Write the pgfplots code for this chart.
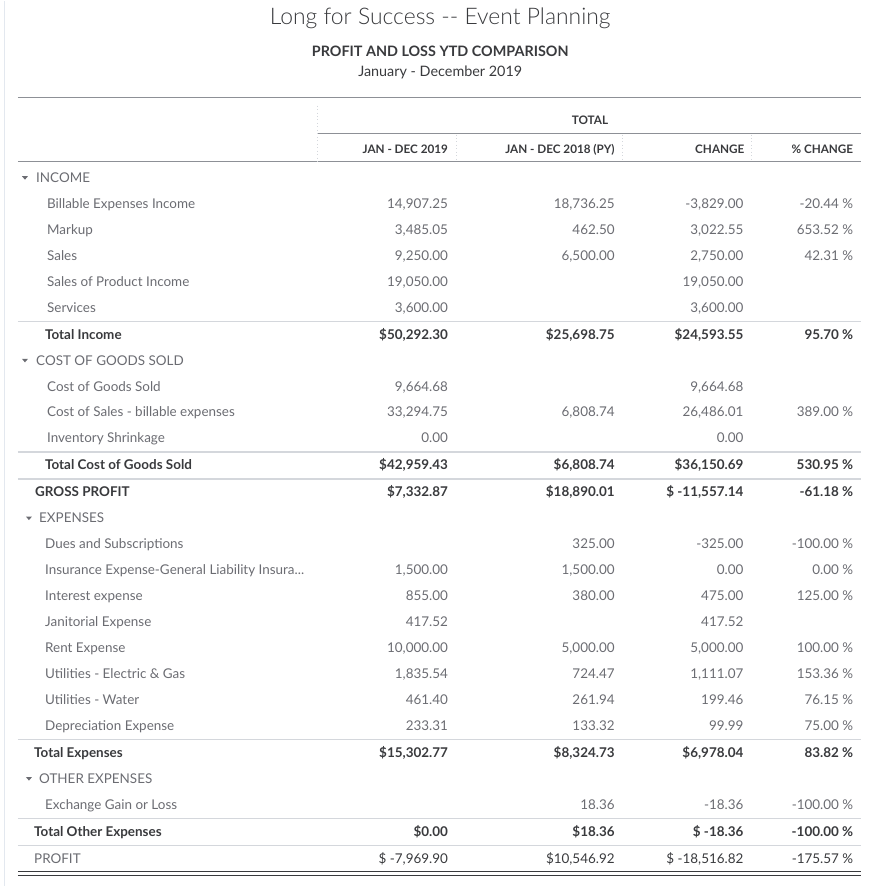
\documentclass[border=0pt]{standalone}
\usepackage{pgfplots}
\pgfplotsset{compat=1.18}
\usepackage{fontspec}
\setmainfont{Lato}
\IfFontExistsTF{Lato Light}{\newfontfamily\lightfont{Lato Light}}{\newfontfamily\lightfont{Lato}}
\definecolor{qbgray}{HTML}{6B6C72}
\definecolor{qbdark}{HTML}{393A3D}
\definecolor{rule}{HTML}{8D9096}
\definecolor{lightrule}{HTML}{D4D7DC}
\definecolor{border}{HTML}{E3E8EF}
\newcommand{\itemfont}{\fontsize{10.1}{12}\selectfont}
\pgfplotsset{
  tbl/.style={draw=none, mark=none, point meta=explicit symbolic,
    nodes near coords={\pgfplotspointmeta},
    every node near coord/.append style={inner sep=0pt, yshift=-3.7pt}},
  L/.style={tbl, every node near coord/.append style={anchor=base west}},
  R/.style={tbl, every node near coord/.append style={anchor=base east}},
  C/.style={tbl, every node near coord/.append style={anchor=base}},
  item/.style={every node near coord/.append style={font=\itemfont, text=qbgray}},
  dark/.style={every node near coord/.append style={font=\itemfont, text=qbdark}},
  bold/.style={every node near coord/.append style={font=\itemfont\bfseries, text=qbdark}},
  head/.style={every node near coord/.append style={font=\fontsize{8.8}{10}\selectfont\bfseries, text=qbdark}},
}
\begin{document}
\begin{tikzpicture}
\begin{axis}[scale only axis, width=659.25pt, height=665.25pt,
  xmin=0, xmax=879, ymin=0, ymax=887, y dir=reverse,
  axis lines=none, clip=false]
\path (axis cs:0,0) rectangle (axis cs:879,887);
% borders and rules
\draw[border, line width=1.2pt] (axis cs:4.5,0) -- (axis cs:4.5,887);
\draw[rule, line width=1.1pt] (axis cs:18,97) -- (axis cs:863,97);
\draw[rule, line width=1.1pt] (axis cs:318,133) -- (axis cs:863,133);
\draw[rule, line width=1.1pt] (axis cs:18,161) -- (axis cs:863,161);
\draw[lightrule, dotted, line width=0.6pt] (axis cs:318,105) -- (axis cs:318,161);
\draw[lightrule, dotted, line width=0.6pt] (axis cs:457,134) -- (axis cs:457,161);
\draw[lightrule, dotted, line width=0.6pt] (axis cs:624,134) -- (axis cs:624,161);
\draw[lightrule, dotted, line width=0.6pt] (axis cs:753,134) -- (axis cs:753,161);
\foreach \yy in {321,452,479,740,819,846}{
  \edef\tmp{\noexpand\draw[lightrule, line width=0.9pt] (axis cs:18,\yy) -- (axis cs:863,\yy);}\tmp
}
\draw[qbdark, line width=1.1pt] (axis cs:18,872) -- (axis cs:863,872);
\draw[qbdark, line width=1.1pt] (axis cs:18,876.5) -- (axis cs:863,876.5);
% triangles
\foreach \tx/\ty in {25/177, 25/360, 29/518, 29/779}{
  \edef\tmp{\noexpand\fill[qbgray] (axis cs:\tx-3,\ty-1.3) -- (axis cs:\tx+3,\ty-1.3) -- (axis cs:\tx,\ty+2.2) -- cycle;}\tmp
}
% titles
\addplot[C, every node near coord/.append style={font=\lightfont\fontsize{17.2}{20}\selectfont, text=qbdark, yshift=-2.2pt}] coordinates {(441,16) [Long for Success -- Event Planning]};
\addplot[C, every node near coord/.append style={font=\fontsize{10.8}{12}\selectfont\bfseries, text=qbdark}] coordinates {(441,51) [PROFIT AND LOSS YTD COMPARISON]};
\addplot[C, every node near coord/.append style={font=\fontsize{10.8}{12}\selectfont, text=qbdark}] coordinates {(441,71) [January - December 2019]};
% headers
\addplot[C, head] coordinates {(591,119) [TOTAL]};
\addplot[R, head] coordinates {(449,148) [JAN - DEC 2019] (616,148) [JAN - DEC 2018 (PY)] (746,148) [CHANGE] (855,148) [\% CHANGE]};
% section labels
\addplot[L, item] coordinates {(36,177) [INCOME] (36,360) [COST OF GOODS SOLD] (39,518) [EXPENSES] (39,779) [OTHER EXPENSES]};
% item labels
\addplot[L, item] coordinates {
 (47,203) [Billable Expenses Income] (47,229) [Markup] (47,255) [Sales]
 (47,281) [Sales of Product Income] (47,307) [Services]
 (47,386) [Cost of Goods Sold] (47,412) [Cost of Sales - billable expenses] (47,438) [Inventory Shrinkage]
 (45,544) [Dues and Subscriptions] (45,570) [Insurance Expense-General Liability Insura...]
 (45,596) [Interest expense] (45,622) [Janitorial Expense] (45,648) [Rent Expense]
 (45,674) [Utilities - Electric \& Gas] (45,700) [Utilities - Water] (45,726) [Depreciation Expense]
 (45,805) [Exchange Gain or Loss]};
% total labels
\addplot[L, bold] coordinates {(45,334) [Total Income] (45,465) [Total Cost of Goods Sold] (35,492) [GROSS PROFIT]
 (34,753) [Total Expenses] (34,832) [Total Other Expenses]};
\addplot[L, item] coordinates {(34,859) [PROFIT]};
% column JAN - DEC 2019
\addplot[R, item] coordinates {
 (449,203) [14,907.25] (449,229) [3,485.05] (449,255) [9,250.00] (449,281) [19,050.00] (449,307) [3,600.00]
 (449,386) [9,664.68] (449,412) [33,294.75] (449,438) [0.00]
 (449,570) [1,500.00] (449,596) [855.00] (449,622) [417.52] (449,648) [10,000.00]
 (449,674) [1,835.54] (449,700) [461.40] (449,726) [233.31]};
\addplot[R, bold] coordinates {(449,334) [\$50,292.30] (449,465) [\$42,959.43] (449,492) [\$7,332.87]
 (449,753) [\$15,302.77] (449,832) [\$0.00]};
\addplot[R, dark] coordinates {(449,859) [\$ -7,969.90]};
% column JAN - DEC 2018 (PY)
\addplot[R, item] coordinates {
 (616,203) [18,736.25] (616,229) [462.50] (616,255) [6,500.00]
 (616,412) [6,808.74]
 (616,544) [325.00] (616,570) [1,500.00] (616,596) [380.00] (616,648) [5,000.00]
 (616,674) [724.47] (616,700) [261.94] (616,726) [133.32] (616,805) [18.36]};
\addplot[R, bold] coordinates {(616,334) [\$25,698.75] (616,465) [\$6,808.74] (616,492) [\$18,890.01]
 (616,753) [\$8,324.73] (616,832) [\$18.36]};
\addplot[R, dark] coordinates {(616,859) [\$10,546.92]};
% column CHANGE
\addplot[R, item] coordinates {
 (745,203) [-3,829.00] (745,229) [3,022.55] (745,255) [2,750.00] (745,281) [19,050.00] (745,307) [3,600.00]
 (745,386) [9,664.68] (745,412) [26,486.01] (745,438) [0.00]
 (745,544) [-325.00] (745,570) [0.00] (745,596) [475.00] (745,622) [417.52] (745,648) [5,000.00]
 (745,674) [1,111.07] (745,700) [199.46] (745,726) [99.99] (745,805) [-18.36]};
\addplot[R, bold] coordinates {(745,334) [\$24,593.55] (745,465) [\$36,150.69] (745,492) [\$ -11,557.14]
 (745,753) [\$6,978.04] (745,832) [\$ -18.36]};
\addplot[R, dark] coordinates {(745,859) [\$ -18,516.82]};
% column % CHANGE
\addplot[R, item] coordinates {
 (855,203) [-20.44 \%] (855,229) [653.52 \%] (855,255) [42.31 \%]
 (855,412) [389.00 \%]
 (855,544) [-100.00 \%] (855,570) [0.00 \%] (855,596) [125.00 \%] (855,648) [100.00 \%]
 (855,674) [153.36 \%] (855,700) [76.15 \%] (855,726) [75.00 \%] (855,805) [-100.00 \%]};
\addplot[R, bold] coordinates {(855,334) [95.70 \%] (855,465) [530.95 \%] (855,492) [-61.18 \%]
 (855,753) [83.82 \%] (855,832) [-100.00 \%]};
\addplot[R, dark] coordinates {(855,859) [-175.57 \%]};
\end{axis}
\end{tikzpicture}
\end{document}
